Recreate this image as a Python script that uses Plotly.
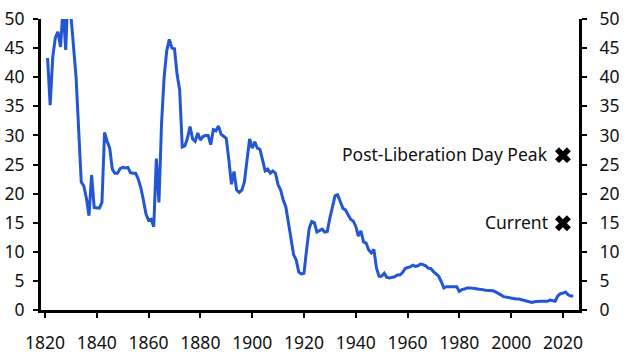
import plotly.graph_objects as go

years = list(range(1821, 2025))
tariff = [
    43.3, 35.2, 43.5, 46.8, 47.8, 45.2, 52.0, 44.7, 56.0, 51.0,
    45.5, 40.0, 31.0, 22.0, 21.3, 19.2, 16.2, 23.2, 17.6, 17.5,
    17.5, 18.5, 30.5, 29.0, 27.8, 24.2, 23.5, 23.5, 24.3, 24.5,
    24.4, 24.5, 23.6, 23.5, 23.5, 22.5, 21.0, 18.9, 16.5, 15.4,
    15.6, 14.3, 26.0, 18.5, 32.0, 40.0, 44.5, 46.5, 45.0, 44.9,
    40.5, 37.8, 28.0, 28.2, 29.5, 31.5, 29.4, 29.0, 30.4, 29.2,
    29.8, 30.0, 30.0, 28.4, 31.0, 30.8, 31.6, 30.2, 29.8, 29.5,
    25.8, 21.6, 23.8, 20.6, 20.2, 20.6, 22.0, 25.5, 29.4, 27.8,
    28.9, 27.8, 27.6, 25.8, 23.9, 24.2, 23.5, 23.9, 23.5, 21.5,
    20.6, 18.9, 17.7, 15.0, 12.0, 9.5, 8.6, 6.5, 6.2, 6.3,
    10.3, 14.0, 15.2, 15.0, 13.4, 13.6, 13.9, 13.4, 13.5, 15.8,
    17.8, 19.6, 19.8, 18.7, 17.5, 17.2, 16.3, 15.6, 15.3, 14.4,
    12.7, 13.6, 11.7, 11.5, 10.3, 9.8, 10.4, 7.2, 5.8, 5.8,
    6.3, 5.6, 5.5, 5.6, 5.7, 6.0, 6.0, 6.4, 7.1, 7.3,
    7.4, 7.7, 7.5, 7.6, 7.9, 7.8, 7.6, 7.2, 7.1, 6.6,
    6.2, 5.8, 4.9, 3.8, 4.0, 4.0, 3.9, 3.9, 4.0, 3.2,
    3.5, 3.6, 3.8, 3.8, 3.8, 3.7, 3.6, 3.6, 3.5, 3.4,
    3.4, 3.4, 3.3, 3.1, 2.9, 2.6, 2.3, 2.2, 2.1, 2.0,
    1.9, 1.9, 1.9, 1.8, 1.6, 1.5, 1.5, 1.3, 1.4, 1.5,
    1.5, 1.5, 1.5, 1.5, 1.7, 1.6, 1.5, 2.4, 2.8, 2.9,
    3.1, 2.6, 2.4, 2.4,
]

marker_labels = ["Post-Liberation Day Peak", "Current"]
marker_years = [2020, 2020]
marker_values = [26.6, 14.9]

y_ticks = list(range(0, 55, 5))
x_ticks = list(range(1820, 2030, 20))

FONT = "Noto Sans"
FS = 17.5
line_col = "rgb(34,86,212)"

fig = go.Figure()
fig.add_trace(go.Scatter(
    x=years, y=tariff, mode="lines",
    line=dict(color=line_col, width=3),
    showlegend=False, hoverinfo="skip",
))
fig.add_trace(go.Scatter(
    x=marker_years, y=marker_values, mode="markers",
    marker=dict(symbol="x", size=14, color="black", line=dict(width=0)),
    showlegend=False, hoverinfo="skip", cliponaxis=False,
))
# invisible trace for right axis
fig.add_trace(go.Scatter(
    x=[years[0]], y=[0], yaxis="y2", mode="markers",
    marker=dict(opacity=0), showlegend=False, hoverinfo="skip",
))

for lab, xv, yv in zip(marker_labels, marker_years, marker_values):
    fig.add_annotation(
        x=xv, y=yv, text=lab, showarrow=False,
        xanchor="right", yanchor="middle", xshift=-13, yshift=1,
        font=dict(family=FONT, size=FS, color="#111111"),
    )

axis_common = dict(
    showgrid=False, zeroline=False, showline=True, linecolor="black",
    linewidth=3, ticks="outside", ticklen=5, tickwidth=2, tickcolor="black",
    tickfont=dict(family=FONT, size=FS, color="#111111"), automargin=False,
)

fig.update_layout(
    width=629, height=354,
    margin=dict(l=41, r=50, t=19, b=44),
    paper_bgcolor="white", plot_bgcolor="white",
    xaxis=dict(range=[1818.46, 2026.2], tickvals=x_ticks, ticklabelstandoff=10,
               **axis_common),
    yaxis=dict(range=[0, 50], tickvals=y_ticks, ticklabelstandoff=5,
               **axis_common),
    yaxis2=dict(range=[0, 50], tickvals=y_ticks, overlaying="y", side="right",
                ticklabelstandoff=9, **axis_common),
)

fig.write_html("out.html")
